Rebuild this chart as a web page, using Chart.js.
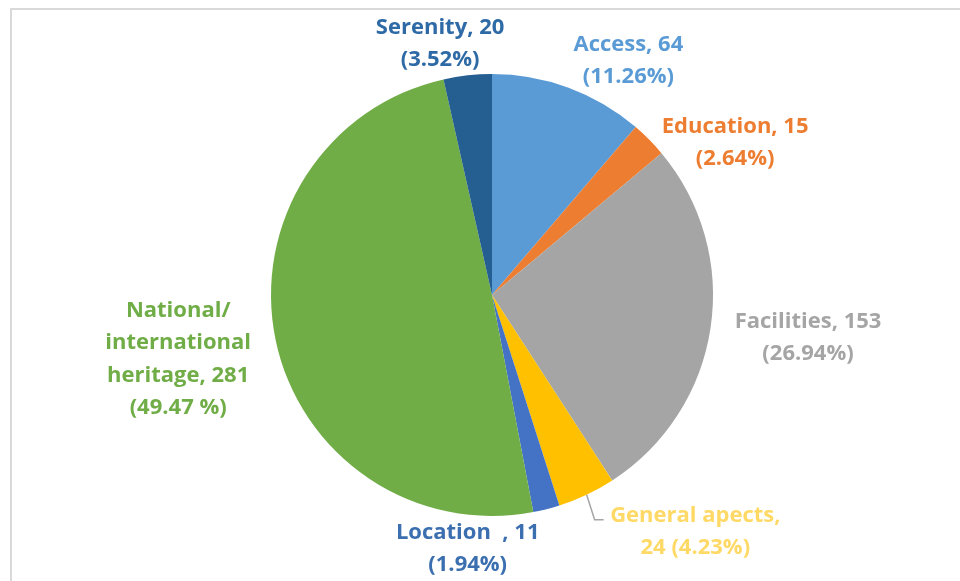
<!DOCTYPE html>
<html>
<head>
<meta charset="utf-8">
<script src="https://cdn.jsdelivr.net/npm/chart.js@4"></script>
<style>
  html, body { margin: 0; padding: 0; background: #fff; }
  #wrap { position: relative; width: 960px; height: 581px; overflow: hidden; }
  #frame { position: absolute; left: 10px; top: 8px; width: 1000px; height: 620px; border: 2px solid #d9d9d9; box-sizing: border-box; }
  #c { position: absolute; left: 0; top: 0; }
</style>
</head>
<body>
<div id="wrap">
  <div id="frame"></div>
  <canvas id="c" width="960" height="581"></canvas>
</div>
<script>
// chart data
const categories = ['Access', 'Education', 'Facilities', 'General apects', 'Location', 'National/international heritage', 'Serenity'];
const counts = [64, 15, 153, 24, 11, 281, 20];
const percents = ['11.26%', '2.64%', '26.94%', '4.23%', '1.94%', '49.47 %', '3.52%'];
const labelLines = [
    ['Access, 64', '(11.26%)'],
    ['Education, 15', '(2.64%)'],
    ['Facilities, 153', '(26.94%)'],
    ['General apects,', '24 (4.23%)'],
    ['Location  , 11', '(1.94%)'],
    ['National/', 'international', 'heritage, 281', '(49.47 %)'],
    ['Serenity, 20', '(3.52%)']
];

const sliceColors = ['#5b9bd5', '#ed7d31', '#a5a5a5', '#ffc000', '#4472c4', '#70ad47', '#255e91'];
const textColors = ['#5b9bd5', '#ed7d31', '#a5a5a5', '#ffd966', '#3b6fb0', '#70ad47', '#2e6aa6'];
// label block centre, relative to pie centre, in units of the radius
const labelOffsets = [[0.617, -1.06], [1.1, -0.69], [1.43, 0.195], [0.92, 1.07], [-0.11, 1.15], [-1.42, 0.29], [-0.235, -1.135]];
const lineHeights = [32, 32, 32, 32, 32, 32.5, 32];

const labelPlugin = {
    id: 'outLabels',
    afterDraw(chart) {
        const ctx = chart.ctx;
        const arcs = chart.getDatasetMeta(0).data;
        const cx = arcs[0].x, cy = arcs[0].y, r = arcs[0].outerRadius;
        ctx.save();
        ctx.font = 'bold 22px "Open Sans"';
        ctx.textAlign = 'center';
        ctx.textBaseline = 'middle';
        labelLines.forEach((lines, i) => {
            const lx = cx + labelOffsets[i][0] * r;
            const ly = cy + labelOffsets[i][1] * r;
            const lh = lineHeights[i];
            ctx.fillStyle = textColors[i];
            lines.forEach((t, j) => {
                ctx.fillText(t, lx, ly + (j - (lines.length - 1) / 2) * lh);
            });
        });
        // leader line for General apects
        const a = arcs[3];
        const mid = (a.startAngle + a.endAngle) / 2;
        const px = cx + Math.cos(mid) * r, py = cy + Math.sin(mid) * r;
        ctx.strokeStyle = '#a6a6a6';
        ctx.lineWidth = 1.5;
        ctx.beginPath();
        ctx.moveTo(px, py);
        ctx.lineTo(px + 8, py + 25);
        ctx.lineTo(px + 17, py + 25);
        ctx.stroke();
        ctx.restore();
    }
};

new Chart(document.getElementById('c'), {
    type: 'pie',
    data: {
        labels: categories,
        datasets: [{
            data: counts,
            backgroundColor: sliceColors,
            borderWidth: 0
        }]
    },
    options: {
        responsive: false,
        animation: false,
        layout: { padding: { left: 271, right: 247, top: 74, bottom: 65 } },
        plugins: {
            legend: { display: false },
            tooltip: { enabled: false }
        }
    },
    plugins: [labelPlugin]
});
</script>
</body>
</html>
